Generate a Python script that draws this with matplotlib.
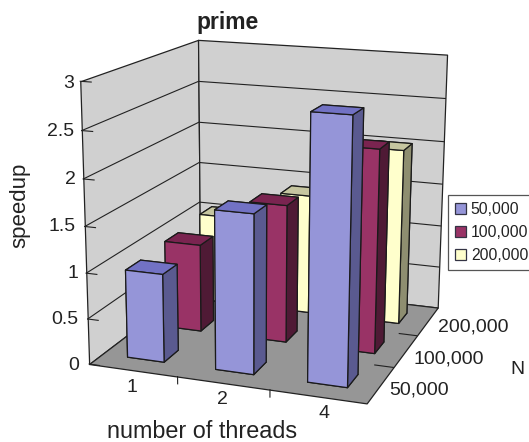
import numpy as np
import matplotlib
matplotlib.use("Agg")
import matplotlib.pyplot as plt
from matplotlib.patches import Patch
from mpl_toolkits.mplot3d.art3d import Poly3DCollection

plt.rcParams['font.family'] = ['Liberation Sans', 'DejaVu Sans']

# data
threads = ['1', '2', '4']
sizes = ['50,000', '100,000', '200,000']
speedup_50k = [0.97, 1.72, 2.8]
speedup_100k = [1.0, 1.55, 2.25]
speedup_200k = [1.05, 1.4, 2.02]
z_ticks = [0, 0.5, 1, 1.5, 2, 2.5, 3]
z_labels = ['0', '0.5', '1', '1.5', '2', '2.5', '3']

W, H = 529, 442

# camera calibration: box corners (x, y, z) and where they sit in the image
box_pts = np.array([[0, 0, 0], [0, 0, 3], [0, 3, 3], [0, 3, 0],
                    [3, 3, 3], [3, 3, 0], [3, 0, 0]], dtype=float)
img_pts = np.array([[90, 364], [80, 80.7], [198.3, 40], [199.5, 280],
                    [447, 55], [438.3, 306.7], [366, 404]], dtype=float)

fig = plt.figure(figsize=(W / 100, H / 100), dpi=100)
ax = fig.add_axes([0, 0, 1, 1], projection='3d')
ax.set_axis_off()
ax.patch.set_visible(False)
ax.computed_zorder = False


def get_proj():
    # fit a projection matrix to the corners, in the axes' 2D data coords
    uv = ax.transData.inverted().transform(
        np.column_stack([img_pts[:, 0], H - img_pts[:, 1]]))
    rows = []
    for (x, y, z), (u, v) in zip(box_pts, uv):
        rows.append([x, y, z, 1, 0, 0, 0, 0, -u * x, -u * y, -u * z, -u])
        rows.append([0, 0, 0, 0, x, y, z, 1, -v * x, -v * y, -v * z, -v])
    p = np.linalg.svd(np.array(rows))[2][-1].reshape(3, 4)
    if p[2] @ [1.5, 1.5, 1.5, 1] < 0:
        p = -p
    p = p / (p[2] @ [1.5, 1.5, 1.5, 1])
    return np.array([p[0], p[1], [0, 0, 0, -1], p[2]])


ax.get_proj = get_proj

ax.set_xlim(0, 3)
ax.set_ylim(0, 3)
ax.set_zlim(0, 3)

# walls and floor
pane_kw = dict(edgecolor='#222222', linewidth=0.9, zorder=1)
ax.add_collection3d(Poly3DCollection([[(0, 0, 0), (0, 3, 0), (0, 3, 3), (0, 0, 3)]],
                                     facecolor='#d0d0d0', **pane_kw))
ax.add_collection3d(Poly3DCollection([[(0, 3, 0), (3, 3, 0), (3, 3, 3), (0, 3, 3)]],
                                     facecolor='#d0d0d0', **pane_kw))
ax.add_collection3d(Poly3DCollection([[(0, 0, 0), (3, 0, 0), (3, 3, 0), (0, 3, 0)]],
                                     facecolor='#969696', **pane_kw))

# gridlines and ticks
for z in z_ticks[1:-1]:
    ax.plot([0, 0, 3], [0, 3, 3], [z, z, z], color='#222222', lw=0.8, zorder=2)
for z in z_ticks:
    ax.plot([0, 0.12], [0, 0], [z, z], color='#222222', lw=0.8, zorder=2)
for i in [1, 2]:
    ax.plot([i, i], [0, 0], [-0.08, 0], color='#222222', lw=0.8, zorder=2)
    ax.plot([3, 2.8], [i, i], [0, 0], color='#222222', lw=0.8, zorder=2)

# bars, back row first. faces: -z, +z, -y, +y, -x, +x
series = [speedup_50k, speedup_100k, speedup_200k]
face_cols = [('#9595d8', '#7272c4', '#5a5a90'),
             ('#993366', '#7a2450', '#4f1a35'),
             ('#ffffcc', '#c6c6a0', '#8e8e70')]
bar_w = 0.42
bar_d = 0.37
for j in [2, 1, 0]:
    front, top, side = face_cols[j]
    for i in range(3):
        ax.bar3d([i + 0.5 - bar_w / 2], [j + 0.5 - bar_d / 2], [0],
                 [bar_w], [bar_d], [series[j][i]],
                 color=[top, top, front, front, side, side], shade=False,
                 edgecolor='#1a1a1a', linewidth=0.9,
                 zorder=10 + (2 - j) * 3 + i)


def put(x, y, s, **kw):
    fig.text(x / W, 1 - y / H, s, ha='center', va='center', color='#222222', **kw)


put(228, 23, 'prime', fontsize=16.5, fontweight='bold')
put(20, 205, 'speedup', fontsize=16, rotation=90)
put(202, 432, 'number of threads', fontsize=16.8)
put(517, 369, 'N', fontsize=14)

# axis numbers
z_label_x = [79, 78, 78, 76, 76, 74, 74]
z_label_y = [366, 320, 274, 227, 179, 131, 83]
for lab, lx, ly in zip(z_labels, z_label_x, z_label_y):
    fig.text(lx / W, 1 - ly / H, lab, ha='right', va='center', fontsize=14, color='#222222')
for lab, lx, ly in zip(threads, [132, 222, 324], [387, 400, 414]):
    put(lx, ly, lab, fontsize=14)
for lab, lx, ly in zip(sizes, [419, 449, 473], [390, 359, 327]):
    put(lx, ly, lab, fontsize=14)

# legend box runs off the right edge like the original
handles = [Patch(facecolor=c[0], edgecolor='#333344', linewidth=0.9) for c in face_cols]
leg = fig.legend(handles, sizes, loc='upper left',
                 bbox_to_anchor=(448 / W, 1 - 195 / H), borderaxespad=0,
                 fontsize=11.3, fancybox=False, framealpha=1, edgecolor='#555555',
                 handlelength=0.7, handleheight=0.75, handletextpad=0.3,
                 labelspacing=0.5, borderpad=0.45, labelcolor='#222222')
leg.get_frame().set_linewidth(0.9)

fig.savefig('out.png', dpi=100)
